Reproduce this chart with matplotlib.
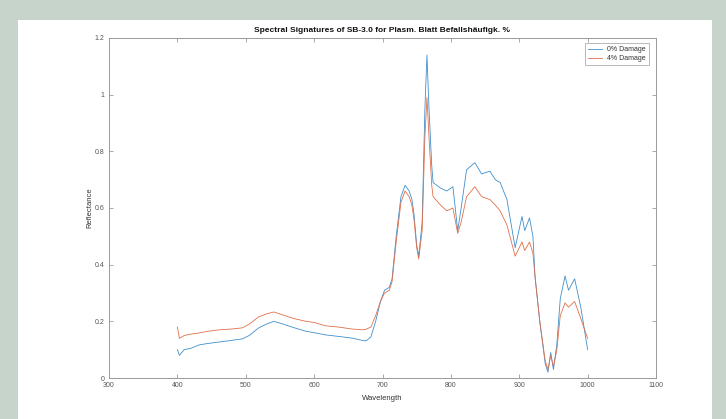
import matplotlib
matplotlib.use("Agg")
import matplotlib.pyplot as plt
from matplotlib.patches import Rectangle
import numpy as np

plt.rcParams['font.family'] = ['Liberation Sans', 'DejaVu Sans']

title = "Spectral Signatures of SB-3.0 for Plasm. Blatt Befallshäufigk. %"
series_names = ["0% Damage", "4% Damage"]

wavelength = [400, 403, 410, 420, 432, 445, 461, 480, 495, 505, 519, 530, 541, 555,
              570, 588, 600, 617, 635, 655, 670, 676, 683, 690, 697, 703, 710, 714,
              720, 727, 733, 739, 743, 746, 750, 753, 758, 762, 765, 768, 772, 774,
              785, 794, 803, 810, 815, 823, 835, 845, 857, 865, 872, 882, 894, 904,
              908, 915, 920, 923, 930, 938, 942, 946, 950, 955, 960, 967, 972, 981,
              990, 1000]

damage0 = [0.100, 0.080, 0.100, 0.105, 0.117, 0.122, 0.127, 0.133, 0.138, 0.150, 0.177,
           0.190, 0.200, 0.190, 0.178, 0.165, 0.160, 0.152, 0.147, 0.141, 0.133, 0.131,
           0.145, 0.200, 0.270, 0.310, 0.320, 0.350, 0.500, 0.640, 0.680, 0.660, 0.630,
           0.580, 0.470, 0.430, 0.550, 0.950, 1.140, 0.950, 0.750, 0.690, 0.670, 0.660,
           0.675, 0.520, 0.600, 0.735, 0.760, 0.720, 0.730, 0.700, 0.690, 0.630, 0.460,
           0.570, 0.520, 0.565, 0.500, 0.360, 0.200, 0.050, 0.020, 0.090, 0.030, 0.120,
           0.280, 0.360, 0.310, 0.350, 0.250, 0.100]

damage4 = [0.180, 0.140, 0.150, 0.155, 0.159, 0.165, 0.170, 0.173, 0.177, 0.190, 0.216,
           0.226, 0.233, 0.222, 0.210, 0.200, 0.196, 0.184, 0.180, 0.173, 0.170, 0.172,
           0.180, 0.220, 0.270, 0.300, 0.310, 0.340, 0.480, 0.620, 0.660, 0.640, 0.610,
           0.560, 0.460, 0.420, 0.520, 0.850, 0.990, 0.850, 0.680, 0.640, 0.610, 0.590,
           0.600, 0.510, 0.550, 0.640, 0.675, 0.640, 0.630, 0.610, 0.590, 0.540, 0.430,
           0.480, 0.450, 0.480, 0.440, 0.360, 0.200, 0.060, 0.030, 0.080, 0.040, 0.100,
           0.220, 0.265, 0.250, 0.270, 0.210, 0.140]

xticks = [300, 400, 500, 600, 700, 800, 900, 1000, 1100]
yticks = [0, 0.2, 0.4, 0.6, 0.8, 1, 1.2]
ytick_labels = ["0", "0.2", "0.4", "0.6", "0.8", "1", "1.2"]

W, H = 726, 419
fig = plt.figure(figsize=(W / 100, H / 100), dpi=100)
fig.patch.set_facecolor('#c6d4cb')
bg = Rectangle((18 / W, 0), (712 - 18) / W, (H - 20) / H,
               transform=fig.transFigure, facecolor='white',
               edgecolor='none', zorder=-10)
fig.add_artist(bg)

ax = fig.add_axes([109 / W, 1 - 378 / H, (656 - 109) / W, (378 - 38) / H])
ax.set_zorder(5)
ax.set_facecolor('white')

ax.plot(wavelength, damage0, color='#3f8fcc', lw=0.6, label=series_names[0])
ax.plot(wavelength, damage4, color='#e0704a', lw=0.6, label=series_names[1])

ax.set_xlim(300, 1100)
ax.set_ylim(0, 1.2)
ax.set_xticks(xticks)
ax.set_xticklabels([str(t) for t in xticks])
ax.set_yticks(yticks)
ax.set_yticklabels(ytick_labels)

axcol = '#9a9a9a'
for s in ax.spines.values():
    s.set_color(axcol)
    s.set_linewidth(0.7)
ax.tick_params(direction='in', top=True, right=True, length=3, width=0.6,
               colors=axcol, labelcolor='#555555', labelsize=5, pad=3)

ax.set_title(title, fontsize=6, fontweight='bold', color='#111111', pad=4)
ax.set_xlabel("Wavelength", fontsize=5.5, color='#333333', labelpad=4)
ax.set_ylabel("Reflectance", fontsize=5.5, color='#333333', labelpad=1)

leg = ax.legend(loc='upper right', fontsize=5, frameon=True, fancybox=False,
                handlelength=2.0, borderpad=0.4, labelspacing=0.3,
                bbox_to_anchor=(0.993, 0.995))
leg.get_frame().set_edgecolor(axcol)
leg.get_frame().set_linewidth(0.6)
for t in leg.get_texts():
    t.set_color('#333333')

fig.savefig("out.png", dpi=100, facecolor=fig.get_facecolor())
